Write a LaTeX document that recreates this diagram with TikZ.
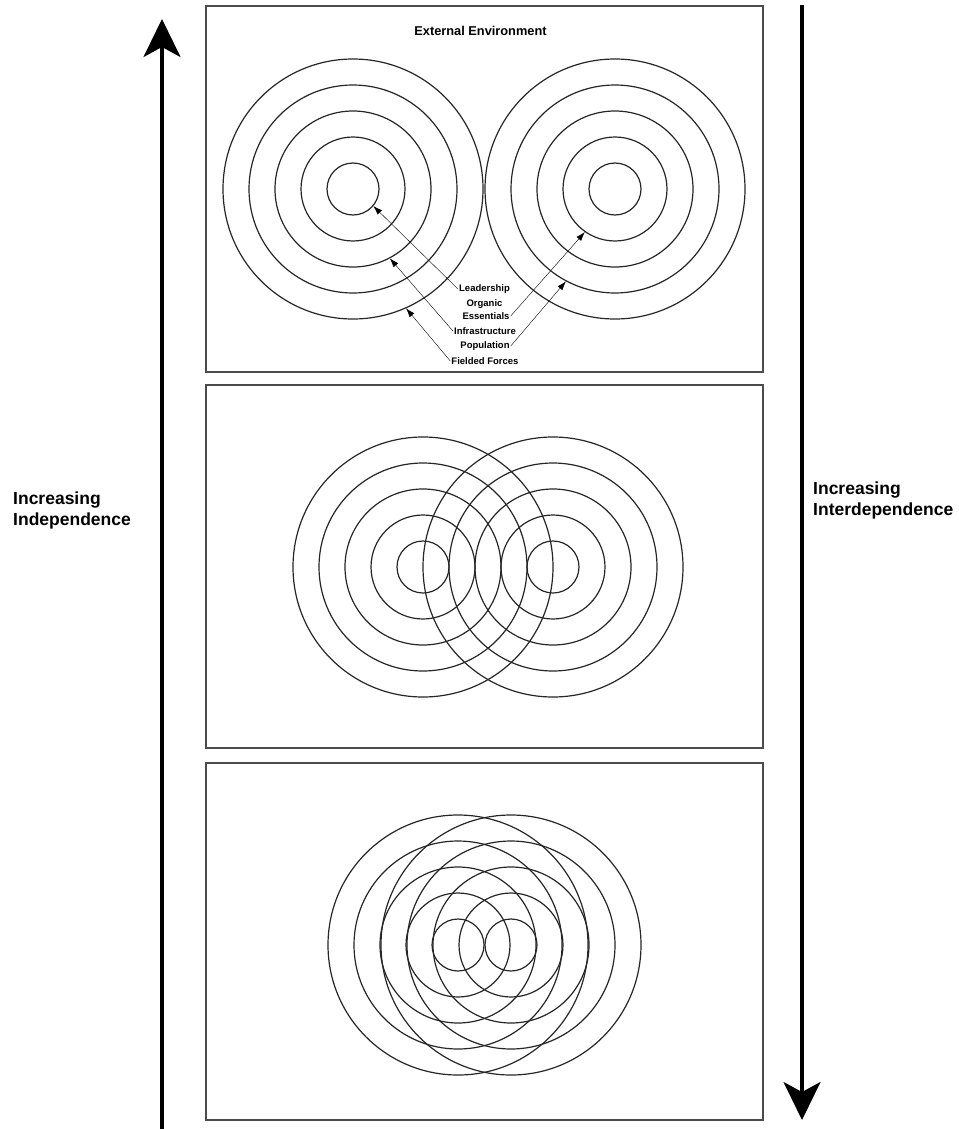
\documentclass[tikz,border=0pt]{standalone}
\usepackage{fontspec}
\setmainfont{Liberation Sans}
\usetikzlibrary{arrows.meta,shapes.geometric}

\tikzset{
  panel/.style={draw=black!70,line width=1.4pt},
  ring/.style={circle,draw=black!85,line width=1.2pt,inner sep=0pt},
  ringlabel/.style={font=\bfseries\fontsize{9.5}{11}\selectfont,inner sep=1pt},
  sidelabel/.style={font=\bfseries\fontsize{17.5}{21}\selectfont,align=left,inner sep=0pt,anchor=north west},
  bigarrow/.style={line width=3.5pt,-{Stealth[length=38pt,width=37pt,inset=10pt]}}
}

\begin{document}
\begin{tikzpicture}[x=1pt,y=-1pt,>={Latex[length=9pt,width=6pt]}]
  \useasboundingbox (0,0) rectangle (958,1129);

  \draw[panel] (206,6) rectangle (763,372);
  \draw[panel] (206,385) rectangle (763,748);
  \draw[panel] (206,763) rectangle (763,1120);

  \foreach \n/\x/\y in {A/353/189, B/615/189, C/423/567, D/553/567, E/458/945, F/511/945}
    \foreach \k in {1,...,5}
      \node[ring,minimum size=\k*52pt] (\n\k) at (\x,\y) {};

  \node[ringlabel,font=\bfseries\fontsize{12.8}{14}\selectfont] (env) at (480.5,31) {External Environment};
  \node[ringlabel] (lead) at (484.5,289) {Leadership};
  \node[ringlabel] (org) at (484.5,304) {Organic};
  \node[ringlabel] (ess) at (486,316) {Essentials};
  \node[ringlabel] (infra) at (485,331) {Infrastructure};
  \node[ringlabel] (pop) at (485,346) {Population};
  \node[ringlabel] (field) at (485,361) {Fielded Forces};

  \draw[->] (lead.west) -- (A1.-40);
  \draw[->] (infra.west) -- (A3.-62);
  \draw[->] (field.west) -- (A5.-66);
  \draw[->] (ess.east) -- (B2.-125);
  \draw[->] (pop.east) -- (B4.-118);

  \coordinate (upfoot) at (162,1129);
  \coordinate (uptip) at (162,19);
  \coordinate (downfoot) at (802,5);
  \coordinate (downtip) at (802,1120);
  \draw[bigarrow] (upfoot) -- (uptip);
  \draw[bigarrow] (downfoot) -- (downtip);

  \node[sidelabel] (indep) at (13,492) {Increasing\\Independence};
  \node[sidelabel] (inter) at (813,482) {Increasing\\Interdependence};
\end{tikzpicture}
\end{document}
